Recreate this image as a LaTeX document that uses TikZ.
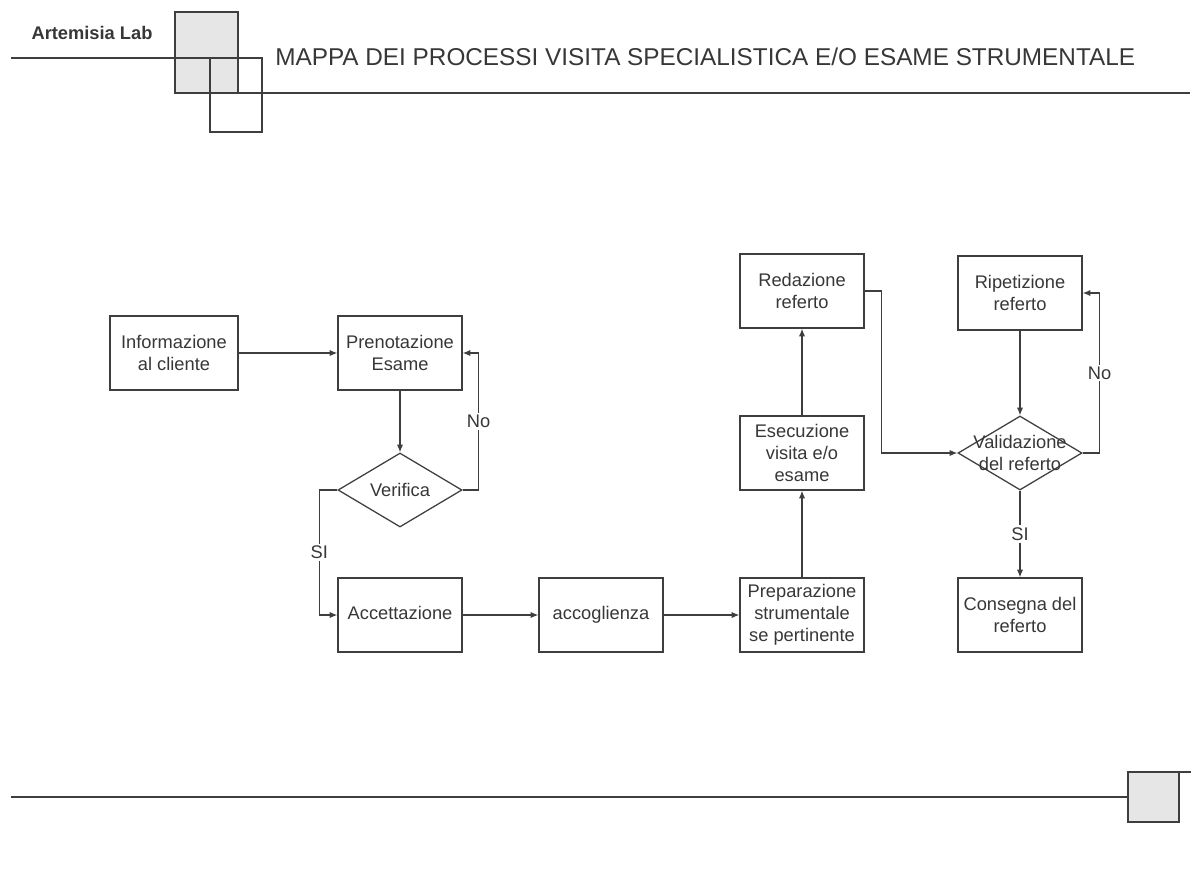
\documentclass[tikz,border=0pt]{standalone}
\usepackage{fontspec}
\setmainfont{Liberation Sans}
\usepackage{tikz}
\usetikzlibrary{arrows}
\usetikzlibrary{arrows.meta}
\usetikzlibrary{shapes.geometric}
\usetikzlibrary{positioning}
\definecolor{inkgray}{RGB}{62,62,62}
\definecolor{textgray}{RGB}{55,55,55}
\definecolor{boxfill}{RGB}{230,230,230}
\newcommand{\boxfont}{\fontsize{13}{15.5}\selectfont}
\tikzset{>=latex}
\tikzset{procbox/.style = {draw=inkgray, line width=0.9pt, minimum width=3.1cm, minimum height=1.85cm, align=center, inner sep=1pt, font=\boxfont, text=textgray}}
\tikzset{decision/.style = {diamond, draw=inkgray, line width=0.9pt, minimum width=3.1cm, minimum height=1.85cm, inner sep=0pt, align=center, font=\boxfont, text=textgray}}
\tikzset{arr/.style = {-{Latex[length=5.5pt, width=4.5pt]}, draw=inkgray, line width=0.9pt}}
\tikzset{lbl/.style = {fill=white, inner sep=1.5pt, font=\boxfont, text=textgray}}

\begin{document}
\begin{tikzpicture}[x=0.025cm, y=-0.025cm]
\useasboundingbox (0,0) rectangle (1200,868);
% header
\fill [boxfill] (175,12) rectangle (238,93);
\draw [inkgray, line width=0.9pt] (175,12) rectangle (238,93);
\draw [inkgray, line width=0.9pt] (11,58) -- (210,58);
\draw [inkgray, line width=0.9pt] (210,58) rectangle (262,132);
\draw [inkgray, line width=0.9pt] (238,93) -- (1190,93);
\node [draw=none, font=\fontsize{13}{15}\selectfont\bfseries, text=textgray] (lab) at (92,33) {Artemisia Lab};
\node [draw=none, anchor=west, inner sep=0, font=\fontsize{17.3}{20}\selectfont, text=textgray] (title) at (275,57) {MAPPA DEI PROCESSI VISITA SPECIALISTICA E/O ESAME STRUMENTALE};
% footer
\draw [inkgray, line width=0.9pt] (11,797) -- (1128,797);
\filldraw [fill=boxfill, draw=inkgray, line width=0.9pt] (1128,772) rectangle (1179,822);
\draw [inkgray, line width=0.9pt] (1179,772) -- (1191,772);
% process
\node [procbox, minimum width=3.2cm] (inf) at (174,353) {Informazione\\al cliente};
\node [procbox] (pre) at (400,353) {Prenotazione\\Esame};
\node [decision] (ver) at (400,490) {Verifica};
\node [procbox] (acc) at (400,615) {\strut Accettazione};
\node [procbox] (acg) at (601,615) {\strut accoglienza};
\node [procbox] (prp) at (802,615) {Preparazione\\strumentale\\se pertinente};
\node [procbox] (ese) at (802,453) {Esecuzione\\visita e/o\\esame};
\node [procbox] (red) at (802,291) {Redazione\\referto};
\node [decision] (val) at (1020,453) {\makebox[0pt]{Validazione}\\\makebox[0pt]{del referto}};
\node [procbox] (rip) at (1020,293) {Ripetizione\\referto};
\node [procbox] (con) at (1020,615) {Consegna del\\referto};
\draw [arr] (inf) to (pre);
\draw [arr] (pre) to (ver);
\draw [arr] (ver.east) -- ++(16,0) |- node [lbl, pos=0.25] {No} (pre.east);
\draw [arr] (ver.west) -- ++(-18,0) |- node [lbl, pos=0.25] {SI} (acc.west);
\draw [arr] (acc) to (acg);
\draw [arr] (acg) to (prp);
\draw [arr] (prp) to (ese);
\draw [arr] (ese) to (red);
\draw [arr] (red.east) -- ++(17,0) |- (val.west);
\draw [arr] (rip) to (val);
\draw [arr] (val.east) -- ++(17,0) |- node [lbl, pos=0.25] {No} (rip.east);
\draw [arr] (val) -- node [lbl] {SI} (con);
\end{tikzpicture}
\end{document}
